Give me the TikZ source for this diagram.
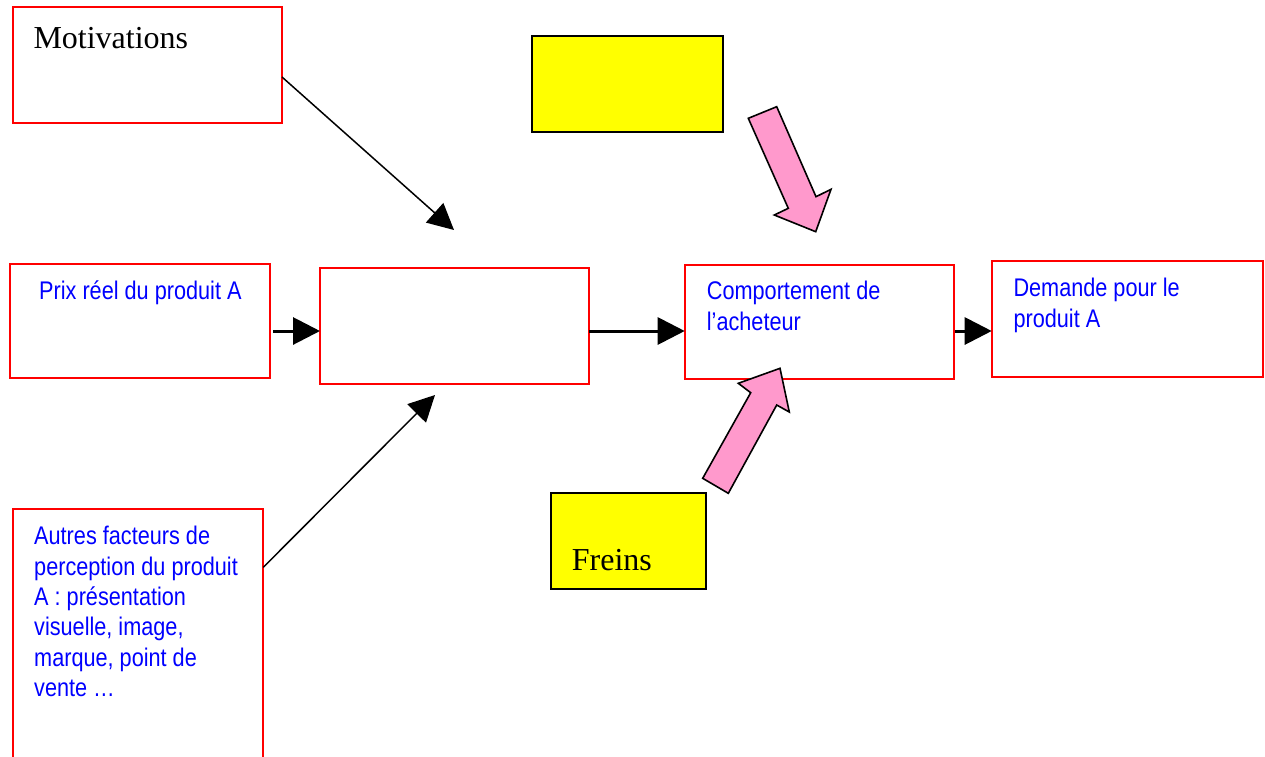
\documentclass[tikz,border=0pt]{standalone}
\usepackage{fontspec}
\setmainfont{Liberation Serif}
\newfontfamily\bluefont[FakeStretch=0.85]{Liberation Sans}
\usetikzlibrary{arrows.meta}
\definecolor{boxred}{HTML}{FF0000}
\definecolor{boxyellow}{HTML}{FFFF00}
\definecolor{txtblue}{HTML}{0000FF}
\definecolor{pinkfill}{HTML}{FF99CC}
\begin{document}
\begin{tikzpicture}[x=1pt,y=-1pt,
  redbox/.style={draw=boxred,line width=2.2pt,inner sep=0pt,outer sep=0pt,anchor=north west},
  yelbox/.style={draw=black,fill=boxyellow,line width=2.2pt,inner sep=0pt,outer sep=0pt,anchor=north west},
  bluetxt/.style={text=txtblue,font=\bluefont\fontsize{25.5}{31}\selectfont,align=left,anchor=base west,inner sep=0pt},
  sertxt/.style={font=\fontsize{32}{36}\selectfont,anchor=base west,inner sep=0pt},
  thickarrow/.style={line width=3pt,-{Triangle[length=27pt,width=27pt]}},
  thinarrow/.style={line width=1.5pt,-{Triangle[length=26pt,width=26pt]}},
  pinkarrow/.style={fill=pinkfill,draw=black,line width=1.6pt,line join=miter}
]
\clip (0,0) rectangle (1265,756);
\fill[white] (0,0) rectangle (1265,756);

% boxes
\node[redbox,minimum width=269.3pt,minimum height=116pt] (mot) at (12.7,6.7) {};
\node[redbox,minimum width=260pt,minimum height=114pt] (prix) at (10,264.3) {};
\node[redbox,line width=1.7pt,minimum width=269.3pt,minimum height=115.5pt] (central) at (320,268.3) {};
\node[redbox,minimum width=269.3pt,minimum height=113.7pt] (comport) at (684.7,265.3) {};
\node[redbox,minimum width=271pt,minimum height=115.7pt] (demande) at (991.7,261) {};
\node[redbox,minimum width=250.6pt,minimum height=280pt] (autres) at (12.7,509) {};
\node[yelbox,minimum width=191.6pt,minimum height=96pt] (yeltop) at (531.7,35.7) {};
\node[yelbox,minimum width=154.7pt,minimum height=96pt] (freins) at (551,493.3) {};

% texts (multi-line nodes: base anchor = last line baseline)
\node[sertxt] (tmot) at (33.3,48) {Motivations};
\node[bluetxt] (tprix) at (39,299) {Prix réel du produit A};
\node[bluetxt] (tcomport) at (706.7,330.3) {Comportement de\\l’acheteur};
\node[bluetxt] (tdemande) at (1013.3,327.7) {Demande pour le\\produit A};
\node[bluetxt,font=\bluefont\fontsize{25.5}{30.4}\selectfont] (tautres) at (34,696.7) {Autres facteurs de\\perception du produit\\A : présentation\\visuelle, image,\\marque, point de\\vente …};
\node[sertxt] (tfreins) at (571.7,570.7) {Freins};

% free ends
\coordinate (motEnd) at (454,230);
\coordinate (autEnd) at (435,395);

% connectors
\draw[thinarrow] (mot.east |- 0,77) -- (motEnd);
\draw[thinarrow] (autres.east |- 0,567.3) -- (autEnd);
\draw[thickarrow,shorten <=3pt] (prix.east |- 0,331) -- (central.west |- 0,331);
\draw[thickarrow] (central.east |- 0,331) -- (comport.west |- 0,331);
\draw[thickarrow,shorten <=1pt] (comport.east |- 0,331) -- (demande.west |- 0,331);

% pink block arrows
\draw[pinkarrow] (748.3,118.3) -- (776.7,106.7) -- (816,196.7) -- (831,189.3) -- (815.7,231.7) -- (774.3,215) -- (788.3,208.3) -- cycle;
\draw[pinkarrow] (702.7,478.3) -- (728.3,493.3) -- (776.7,405) -- (789.3,412) -- (780,368.3) -- (738.3,383.3) -- (750.7,392.7) -- cycle;
\end{tikzpicture}
\end{document}
